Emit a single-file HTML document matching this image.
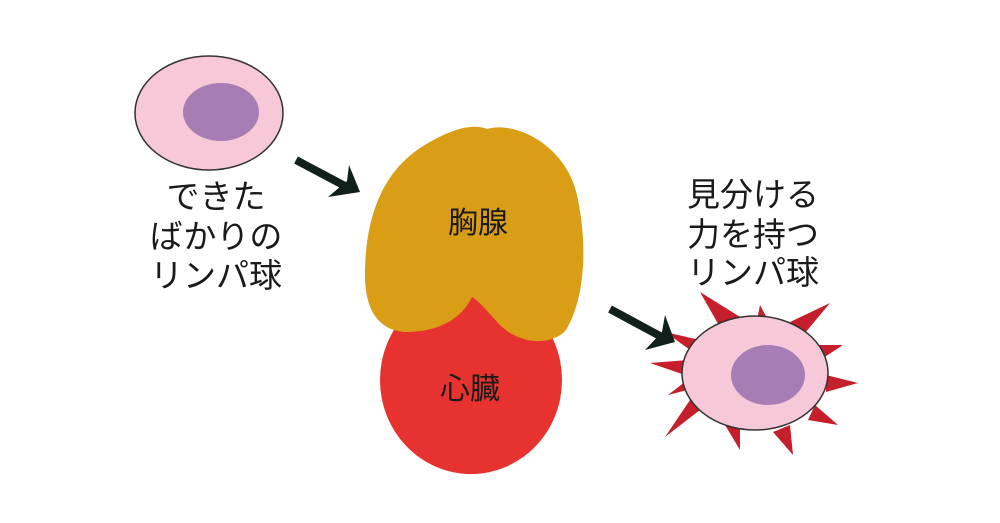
<!DOCTYPE html>
<html><head><meta charset="utf-8"><style>
html,body{margin:0;padding:0;background:#fff;}
svg{display:block}
text{font-family:"Liberation Sans","Noto Sans CJK JP",sans-serif;fill:#1a1a1a;}
</style></head><body>
<svg width="1000" height="523" viewBox="0 0 1000 523">
<rect width="1000" height="523" fill="#fff"/>
<!-- left cell -->
<ellipse cx="209" cy="113" rx="74" ry="57" fill="#f6c8d8" stroke="#333" stroke-width="1.5"/>
<ellipse cx="221" cy="112" rx="38" ry="29" fill="#a67db5"/>
<g font-size="33" text-anchor="middle">
<text x="216" y="208">できた</text>
<text x="216" y="248">ばかりの</text>
<text x="216" y="287">リンパ球</text>
</g>
<!-- arrow1 -->
<line x1="296" y1="160" x2="345" y2="186" stroke="#10201a" stroke-width="8"/>
<polygon points="328,197 360,192 349,165 347,181" fill="#10201a"/>
<!-- heart -->
<ellipse cx="471" cy="380" rx="91" ry="94" fill="#e6332f"/>
<!-- thymus -->
<path d="M487,129 C520,120 570,150 578,200 C588,250 584,300 566,330 C552,346 520,345 500,325 C488,312 478,300 472,297 C462,318 440,332 405,332 C375,330 364,305 365,270 C366,220 380,175 420,148 C445,132 470,122 487,129 Z" fill="#d99e16"/>
<g font-size="30" text-anchor="middle">
<text x="478" y="233">胸腺</text>
<text x="470" y="399">心臓</text>
</g>
<!-- right text -->
<g font-size="33" text-anchor="middle">
<text x="753" y="206">見分ける</text>
<text x="753" y="246">力を持つ</text>
<text x="753" y="284">リンパ球</text>
</g>
<!-- spikes -->
<g fill="#c41f2a">
<polygon points="700,292 725,336 745,320"/>
<polygon points="760,305 757,320 768,320"/>
<polygon points="830,303 790,322 805,333"/>
<polygon points="843,345 815,345 820,360"/>
<polygon points="858,383 826,375 826,392"/>
<polygon points="838,425 815,405 808,420"/>
<polygon points="793,455 790,425 773,432"/>
<polygon points="740,450 740,425 725,425"/>
<polygon points="665,437 700,410 690,400"/>
<polygon points="668,395 690,378 687,390"/>
<polygon points="650,363 688,360 685,375"/>
<polygon points="665,332 700,340 693,352"/>
</g>
<ellipse cx="755" cy="373" rx="73" ry="57" fill="#f6c8d8" stroke="#333" stroke-width="1.5"/>
<ellipse cx="768" cy="375" rx="37" ry="30" fill="#a67db5"/>
<!-- arrow2 -->
<line x1="610" y1="309" x2="660" y2="336" stroke="#10201a" stroke-width="8"/>
<polygon points="645,350 675,342 665,315 662,332" fill="#10201a"/>
</svg>
</body></html>
